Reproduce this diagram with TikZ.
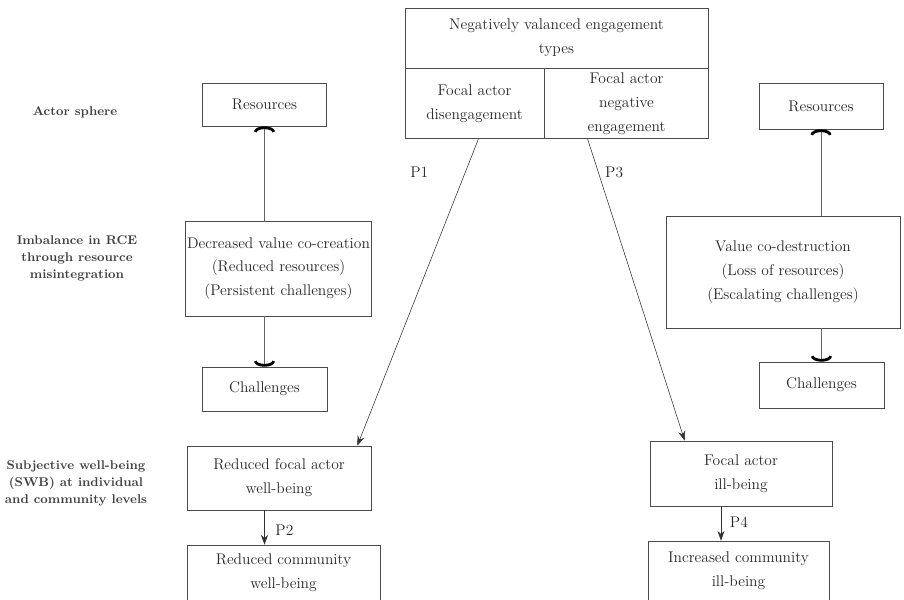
\documentclass[tikz,border=0pt]{standalone}
\usepackage{tikz}
\usetikzlibrary{ % tikz packages
    positioning,
    arrows.meta
}
\tikzset{box/.style={
    draw=black!70,
    rectangle,
    align=center,
    text=black!85,
    font=\fontsize{11}{17}\selectfont,
    inner sep=1pt
}}
\tikzset{rowlabel/.style={
    align=center,
    text=black!75,
    font=\bfseries\fontsize{9}{12}\selectfont
}}
\tikzset{capline/.style={
    draw=black!60,
    -{Arc Barb[width=15pt,length=4pt,line width=2pt,black]}
}}
\tikzset{prop/.style={
    draw=black!80,
    -{Stealth[length=7pt,width=5pt]},
    font=\fontsize{11}{14}\selectfont,
    text=black!85
}}

\begin{document}
\begin{tikzpicture}[x=0.025cm,y=-0.025cm]
        \clip (0,0) rectangle (904,600);

        \node[rowlabel] (sphere) at (75,112) {Actor sphere};
        \node[rowlabel] (imbal) at (77,258) {Imbalance in RCE\\through resource\\misintegration};
        \node[rowlabel] (swb) at (76,483) {Subjective well-being\\(SWB) at individual\\and community levels};

        \node[box, minimum width=7.575cm, minimum height=1.5cm] (types) at (556.5,38)
            {Negatively valanced engagement\\types};
        \node[box, anchor=north west, minimum width=3.475cm, minimum height=1.75cm] (dis)
            at (types.south west) {Focal actor\\disengagement};
        \node[box, anchor=north west, minimum width=4.1cm, minimum height=1.75cm] (neg)
            at (dis.north east) {Focal actor\\negative\\engagement};

        \node[box, minimum width=3.1cm, minimum height=1.075cm] (resL) at (264.5,104.5) {Resources};
        \node[box, minimum width=4.575cm, minimum height=2.375cm] (dvc) at (278.5,268.5)
            {Decreased value co-creation\\(Reduced resources)\\(Persistent challenges)};
        \node[box, minimum width=3.125cm, minimum height=1.1cm] (chL) at (264.5,389) {Challenges};

        \node[box, minimum width=3.1cm, minimum height=1.15cm] (resR) at (821,106) {Resources};
        \node[box, minimum width=5.85cm, minimum height=2.8cm] (vcd) at (783,272)
            {Value co-destruction\\(Loss of resources)\\(Escalating challenges)};
        \node[box, minimum width=3.125cm, minimum height=1.15cm] (chR) at (821.5,385) {Challenges};

        \node[box, minimum width=4.6cm, minimum height=1.6cm] (rfa) at (279,478)
            {Reduced focal actor\\well-being};
        \node[box, minimum width=4.825cm, minimum height=1.4cm] (rcw) at (283.5,573)
            {Reduced community\\well-being};
        \node[box, minimum width=4.55cm, minimum height=1.625cm] (ilb) at (741,473.5)
            {Focal actor\\ill-being};
        \node[box, minimum width=4.525cm, minimum height=1.5cm] (icb) at (738.5,571)
            {Increased community\\ill-being};

        % resources and challenges
        \draw[capline] (dvc.north -| resL.south) -- (resL.south);
        \draw[capline] (dvc.south -| chL.north) -- (chL.north);
        \draw[capline] (vcd.north -| resR.south) -- (resR.south);
        \draw[capline] (vcd.south -| chR.north) -- (chR.north);

        % propositions
        \draw[prop] ([xshift=0.1cm]dis.south) -- node[pos=0.11, left=0.8cm] {P1}
            ([xshift=-0.35cm]rfa.north east);
        \draw[prop] ([xshift=-0.975cm]neg.south) -- node[pos=0.11, right=0.05cm] {P3}
            ([xshift=0.875cm]ilb.north west);
        \draw[prop] (rfa.south -| resL) -- node[pos=0.57, right=0.15cm] {P2} (rcw.north -| resL);
        \draw[prop] ([xshift=-0.5cm]ilb.south) -- node[pos=0.45, right=0.1cm] {P4}
            ([xshift=-0.5cm]ilb.south |- icb.north);
\end{tikzpicture}
\end{document}
